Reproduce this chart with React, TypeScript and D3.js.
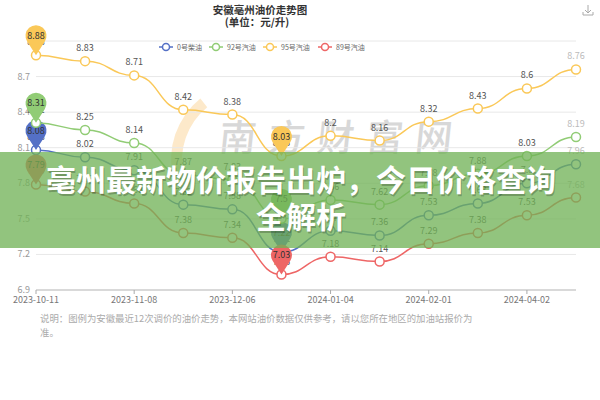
import { useEffect, useRef } from 'react';
import * as d3 from 'd3';

const dates = [
  '2023-10-11', '2023-10-25', '2023-11-08', '2023-11-22', '2023-12-06', '2023-12-20',
  '2024-01-04', '2024-01-17', '2024-02-01', '2024-03-18', '2024-04-02', '2024-04-16',
];
const seriesNames = ['0号柴油', '92号汽油', '95号汽油', '89号汽油'];
const seriesColors = ['#5470c6', '#91cc75', '#fac858', '#ee6666'];
const diesel = [8.08, 8.02, 7.91, 7.62, 7.58, 7.22, 7.4, 7.36, 7.53, 7.63, 7.8, 7.96];
const gas92 = [8.31, 8.25, 8.14, 7.87, 7.83, 7.5, 7.66, 7.62, 7.78, 7.88, 8.03, 8.19];
const gas95 = [8.88, 8.83, 8.71, 8.42, 8.38, 8.03, 8.2, 8.16, 8.32, 8.43, 8.6, 8.76];
const gas89 = [7.79, 7.73, 7.63, 7.38, 7.34, 7.03, 7.18, 7.14, 7.29, 7.38, 7.53, 7.68];
const yTicks = [6.9, 7.2, 7.5, 7.8, 8.1, 8.4, 8.7, 9.0];

const FONT = '"Noto Sans CJK SC", "Noto Sans", sans-serif';

// pin marker with its tip at (0,0)
function pinPath(r: number, h: number) {
  const cy = -(h - r);
  const d = h - r;
  const a = Math.acos(r / d);
  const tx = r * Math.cos(Math.PI / 2 - a);
  const ty = cy + r * Math.sin(Math.PI / 2 - a);
  return `M0,0L${-tx},${ty}A${r},${r} 0 1,1 ${tx},${ty}Z`;
}

export default function App() {
  const svgRef = useRef<SVGSVGElement>(null);

  useEffect(() => {
    if (!svgRef.current) return;
    const svg = d3.select(svgRef.current);
    svg.selectAll('*').remove();

    const x = d3.scalePoint<string>().domain(dates).range([36, 576]);
    const y = d3.scaleLinear().domain([6.9, 9.0]).range([290, 41]);
    const series = [diesel, gas92, gas95, gas89].map((values, i) => ({
      name: seriesNames[i],
      color: seriesColors[i],
      values,
    }));

    svg.append('rect').attr('width', 600).attr('height', 400).attr('fill', '#fff');

    // title
    svg.append('text')
      .attr('x', 260).attr('y', 14).attr('text-anchor', 'middle')
      .attr('font-family', FONT).attr('font-size', 10.5).attr('font-weight', 700)
      .attr('fill', '#333').text('安徽亳州油价走势图');
    svg.append('text')
      .attr('x', 257).attr('y', 26).attr('text-anchor', 'middle')
      .attr('font-family', FONT).attr('font-size', 10.5).attr('font-weight', 700)
      .attr('fill', '#333').text('(单位：元/升)');

    // download icon
    const dl = svg.append('g').attr('transform', 'translate(588,11)')
      .attr('fill', 'none').attr('stroke', '#aaa').attr('stroke-width', 1);
    dl.append('path').attr('d', 'M0,-6V2M-3,-1L0,2L3,-1');
    dl.append('path').attr('d', 'M-5,1V4H5V1');

    // watermark
    const wm = svg.append('g');
    wm.append('path')
      .attr('transform', 'translate(250,160)')
      .attr('d', d3.arc()({ innerRadius: 68, outerRadius: 79, startAngle: -1.8, endAngle: -0.68 } as any) as string)
      .attr('fill', '#f9c77a').attr('opacity', 0.4);
    wm.append('text')
      .attr('transform', 'translate(218,151) skewX(-6)')
      .attr('font-family', FONT).attr('font-size', 37).attr('font-weight', 500)
      .attr('letter-spacing', 12).attr('fill', '#cfcfcf').attr('opacity', 0.8)
      .text('南方财富网');

    // grid + y labels
    svg.append('g').selectAll('line')
      .data(yTicks.slice(1))
      .join('line')
      .attr('x1', 36).attr('x2', 576)
      .attr('y1', (d) => y(d)).attr('y2', (d) => y(d))
      .attr('stroke', '#e8e8e8').attr('stroke-width', 1);
    svg.append('g').selectAll('text')
      .data(yTicks.slice(0, -1))
      .join('text')
      .attr('x', 30).attr('y', (d) => y(d) + 3)
      .attr('text-anchor', 'end')
      .attr('font-family', FONT).attr('font-size', 9).attr('fill', '#999')
      .text((d) => String(d));

    // x axis
    svg.append('line')
      .attr('x1', 36).attr('x2', 576).attr('y1', y(6.9)).attr('y2', y(6.9))
      .attr('stroke', '#ccc').attr('stroke-width', 1.5);
    const labelDates = dates.filter((_, i) => i % 2 === 0);
    svg.append('g').selectAll('line')
      .data(labelDates)
      .join('line')
      .attr('x1', (d) => x(d)!).attr('x2', (d) => x(d)!)
      .attr('y1', y(6.9)).attr('y2', y(6.9) + 4)
      .attr('stroke', '#aaa');
    svg.append('g').selectAll('text')
      .data(labelDates)
      .join('text')
      .attr('x', (d) => x(d)!).attr('y', y(6.9) + 13)
      .attr('text-anchor', 'middle')
      .attr('font-family', FONT).attr('font-size', 9).attr('fill', '#777')
      .text((d) => d);

    // legend
    const legendX = [166, 216, 270, 325];
    const lg = svg.append('g').selectAll('g')
      .data(series)
      .join('g')
      .attr('transform', (_, i) => `translate(${legendX[i]},47)`);
    lg.append('line').attr('x1', -7).attr('x2', 7)
      .attr('stroke', (d) => d.color).attr('stroke-width', 1.5);
    lg.append('circle').attr('r', 3.5).attr('fill', '#fff')
      .attr('stroke', (d) => d.color).attr('stroke-width', 1.5);
    lg.append('text').attr('x', 11).attr('y', 2.5)
      .attr('font-family', FONT).attr('font-size', 7).attr('fill', '#666')
      .text((d) => d.name);

    const line = d3.line<number>()
      .x((_, i) => x(dates[i])!)
      .y((d) => y(d))
      .curve(d3.curveBumpX);

    const pin = pinPath(10.5, 30);

    series.forEach((s) => {
      const g = svg.append('g');
      g.append('path')
        .attr('d', line(s.values))
        .attr('fill', 'none').attr('stroke', s.color).attr('stroke-width', 1.5);
      g.selectAll('circle')
        .data(s.values)
        .join('circle')
        .attr('cx', (_, i) => x(dates[i])!).attr('cy', (d) => y(d))
        .attr('r', 4.5).attr('fill', '#fff')
        .attr('stroke', s.color).attr('stroke-width', 1.5);
      g.selectAll('text.val')
        .data(s.values)
        .join('text')
        .attr('class', 'val')
        .attr('x', (_, i) => x(dates[i])!).attr('y', (d) => y(d) - 10)
        .attr('text-anchor', 'middle')
        .attr('font-family', FONT).attr('font-size', 9)
        .attr('fill', (_, i) => (i === s.values.length - 1 ? '#bbb' : '#555'))
        .text((d) => String(d));

      const maxI = d3.maxIndex(s.values);
      const minI = d3.minIndex(s.values);
      const pins = g.selectAll('g.pin')
        .data([maxI, minI])
        .join('g')
        .attr('class', 'pin')
        .attr('transform', (i) => `translate(${x(dates[i])},${y(s.values[i])})`);
      pins.append('path').attr('d', pin).attr('fill', s.color);
      pins.append('text')
        .attr('y', -16.5).attr('text-anchor', 'middle')
        .attr('font-family', FONT).attr('font-size', 9)
        .attr('fill', '#333')
        .text((i) => String(s.values[i]));
    });

    // banner overlay
    svg.append('rect')
      .attr('x', 0).attr('y', 152).attr('width', 600).attr('height', 96)
      .attr('fill', 'rgb(112,178,86)').attr('opacity', 0.76);
    const bannerLines = ['亳州最新物价报告出炉，今日价格查询', '全解析'];
    const bannerY = [191, 228];
    bannerLines.forEach((t, i) => {
      svg.append('text')
        .attr('x', 302).attr('y', bannerY[i] + 1.5).attr('text-anchor', 'middle')
        .attr('font-family', FONT).attr('font-size', 30).attr('font-weight', 700)
        .attr('fill', 'rgba(0,0,0,0.22)').text(t);
      svg.append('text')
        .attr('x', 301).attr('y', bannerY[i]).attr('text-anchor', 'middle')
        .attr('font-family', FONT).attr('font-size', 30).attr('font-weight', 700)
        .attr('fill', '#fff').text(t);
    });

    // footnote
    const note = svg.append('text')
      .attr('font-family', FONT).attr('font-size', 9.4).attr('fill', '#aaa');
    note.append('tspan').attr('x', 40).attr('y', 322)
      .text('说明：图例为安徽最近12次调价的油价走势，本网站油价数据仅供参考，请以您所在地区的加油站报价为');
    note.append('tspan').attr('x', 40).attr('y', 336).text('准。');
  }, []);

  return (
    <svg
      ref={svgRef}
      width={600}
      height={400}
      style={{ position: 'absolute', left: 0, top: 0 }}
    />
  );
}
